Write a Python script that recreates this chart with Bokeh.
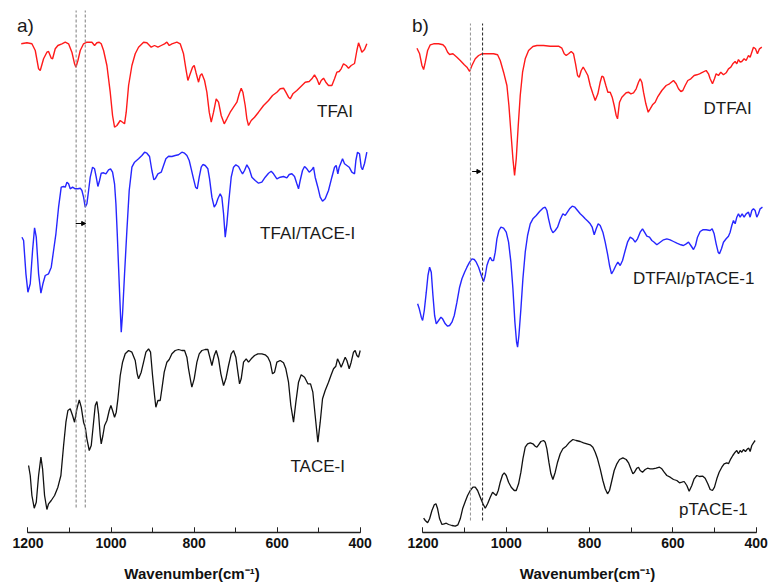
from bokeh.plotting import figure
from bokeh.layouts import row
from bokeh.models import Range1d, SingleIntervalTicker, Label, Arrow, NormalHead
from bokeh.embed import file_html
from bokeh.resources import INLINE

# ---------------- FTIR spectra, offset transmittance (a.u.) ----------------
# panel a)
tfai_wn = [1216.2, 1202.5, 1190.5, 1182.4, 1174.4, 1170.4, 1162.4, 1154.4, 1150.4, 1143.9, 1140.7, 1134.3,
           1127.9, 1118.3, 1110.2, 1102.2, 1094.2, 1087.8, 1084.5, 1079.7, 1074.1, 1066.1, 1058.1, 1046.0,
           1039.6, 1034.0, 1028.4, 1023.6, 1017.9, 1009.9, 1001.9, 996.3, 991.5, 985.8, 977.8, 972.2, 967.4,
           963.4, 957.7, 949.7, 941.7, 933.7, 921.6, 913.6, 903.2, 895.2, 887.1, 879.1, 871.1, 865.5, 859.8,
           853.4, 841.4, 833.4, 825.4, 819.7, 814.9, 809.3, 803.7, 799.7, 795.6, 789.2, 785.2, 781.2, 774.8,
           769.2, 763.5, 758.7, 753.1, 746.7, 741.1, 734.7, 727.4, 721.0, 713.0, 705.0, 696.9, 691.3, 686.5,
           682.5, 676.9, 672.9, 668.9, 662.4, 654.4, 644.8, 632.7, 620.7, 611.1, 600.6, 592.6, 584.6, 579.0,
           572.6, 568.5, 562.1, 552.5, 542.1, 532.4, 522.8, 516.4, 510.0, 504.3, 498.7, 493.9, 488.3, 482.7,
           476.3, 468.2, 461.8, 456.2, 450.6, 445.8, 440.2, 433.7, 428.1, 421.7, 413.6, 408.0, 404.0, 400.0,
           396.0, 389.6, 384.0]
tfai_t = [488.7, 489.7, 488.7, 482.0, 463.7, 462.0, 473.7, 480.3, 481.0, 474.3, 473.7, 483.7,
          487.0, 488.7, 490.3, 488.7, 480.3, 468.7, 465.3, 472.0, 482.0, 488.7, 490.3, 490.3,
          487.0, 489.7, 490.3, 488.7, 482.0, 467.0, 440.3, 417.0, 405.3, 407.0, 412.0, 410.3, 408.7,
          420.3, 447.0, 467.0, 478.7, 485.3, 490.3, 489.7, 485.3, 487.0, 485.3, 487.0, 488.7, 490.3, 487.0,
          488.7, 490.3, 488.7, 478.7, 463.7, 452.0, 458.7, 465.3, 467.0, 460.3, 450.3, 457.0, 458.7, 452.0,
          440.3, 420.3, 410.3, 420.3, 433.7, 430.3, 417.0, 408.7, 413.7, 420.3, 425.3, 430.3, 438.7, 444.3,
          440.3, 427.0, 413.7, 407.0, 412.0, 415.3, 420.3, 427.0, 432.0, 437.0, 440.3, 443.7, 444.3, 440.3,
          435.3, 433.7, 438.7, 442.0, 446.3, 450.3, 451.0, 453.7, 457.7, 453.7, 447.7, 452.0, 454.3, 450.3,
          447.0, 447.0, 453.7, 460.3, 461.0, 463.7, 468.7, 467.0, 464.3, 467.0, 469.0, 482.0, 489.7, 485.3,
          480.3, 483.0, 488.7]

mix_a_wn = [1214.5, 1210.5, 1204.9, 1200.1, 1194.5, 1188.9, 1184.1, 1180.0, 1174.4, 1168.8, 1164.0, 1158.4,
            1150.4, 1143.9, 1138.3, 1132.7, 1126.3, 1119.9, 1114.2, 1110.2, 1106.2, 1102.2, 1098.2, 1092.6,
            1086.2, 1079.7, 1074.1, 1070.1, 1066.1, 1062.1, 1058.1, 1054.0, 1050.0, 1044.4, 1039.6, 1035.6,
            1031.6, 1027.6, 1023.6, 1017.9, 1012.3, 1005.9, 1001.1, 996.3, 991.5, 988.2, 985.0, 981.8, 978.6,
            975.4, 972.2, 967.4, 961.8, 956.2, 949.7, 943.3, 933.7, 925.6, 919.2, 913.6, 907.2, 901.6, 896.8,
            893.6, 887.1, 879.1, 873.5, 867.9, 861.4, 853.4, 845.4, 837.4, 829.4, 822.9, 817.3, 811.7, 806.9,
            801.3, 796.4, 792.4, 787.6, 782.8, 778.8, 773.2, 766.8, 762.7, 757.1, 751.5, 746.7, 742.7, 737.1,
            733.1, 729.0, 725.0, 721.0, 716.2, 710.6, 705.0, 699.4, 692.9, 688.1, 683.3, 678.5, 672.9, 667.2,
            660.8, 652.8, 644.8, 636.8, 628.7, 620.7, 614.3, 608.7, 600.6, 592.6, 584.6, 576.6, 570.9, 564.5,
            558.1, 552.5, 548.5, 544.5, 538.9, 534.0, 528.4, 522.8, 516.4, 512.4, 508.4, 502.0, 496.3, 490.7,
            484.3, 476.3, 468.2, 461.8, 457.8, 453.8, 450.6, 445.8, 442.5, 437.7, 432.1, 426.5, 420.1, 413.6,
            410.4, 406.4, 401.6, 397.6, 394.4, 389.6, 384.0]
mix_a_t = [295.3, 292.0, 258.7, 240.3, 248.7, 282.0, 304.7, 295.3, 258.7, 239.3, 248.7, 257.0,
           258.7, 265.3, 282.0, 298.7, 325.3, 345.3, 346.0, 345.3, 350.3, 348.7, 343.7, 345.3,
           343.7, 343.7, 344.3, 342.0, 335.3, 325.3, 328.7, 342.0, 355.3, 365.3, 363.7, 355.3,
           346.0, 352.0, 359.3, 359.7, 358.7, 362.7, 363.7, 360.3, 348.7, 328.7, 298.7, 265.3, 232.0,
           200.3, 218.7, 258.7, 302.0, 342.0, 365.3, 370.3, 373.7, 377.0, 380.3, 379.3, 376.0, 362.0, 352.7,
           353.7, 358.7, 360.3, 367.0, 373.7, 376.3, 376.0, 377.0, 377.7, 380.3, 379.3, 377.0, 372.0, 363.7,
           353.7, 345.3, 343.7, 355.3, 365.3, 368.0, 367.0, 363.7, 353.7, 335.3, 325.3, 328.7, 333.7, 338.7,
           335.3, 318.7, 295.3, 308.7, 332.0, 355.3, 365.3, 367.7, 366.0, 362.0, 358.7, 362.0, 367.7, 363.7,
           355.3, 352.0, 349.3, 350.3, 355.3, 359.3, 361.3, 358.7, 353.7, 355.3, 356.0, 354.7, 358.0, 358.7,
           356.0, 348.7, 343.7, 352.0, 362.0, 366.0, 363.7, 360.3, 362.7, 365.3, 355.3, 345.3, 335.3, 331.3,
           333.7, 342.0, 355.3, 365.3, 367.0, 358.7, 365.3, 370.3, 373.7, 368.7, 367.0, 365.3, 360.3, 358.7,
           372.0, 380.3, 378.7, 365.3, 362.7, 369.0, 380.3]

tace_wn = [1198.5, 1194.5, 1190.5, 1184.9, 1180.0, 1174.4, 1168.8, 1164.8, 1160.0, 1154.4, 1150.4, 1143.9,
           1135.9, 1127.9, 1120.7, 1114.2, 1108.6, 1103.8, 1098.2, 1092.6, 1087.8, 1082.1, 1076.5, 1071.7,
           1066.1, 1062.1, 1058.1, 1052.4, 1047.6, 1042.0, 1038.0, 1034.0, 1030.0, 1026.0, 1023.6, 1019.5,
           1015.5, 1009.9, 1004.3, 1000.3, 996.3, 991.5, 987.4, 983.4, 977.8, 972.2, 965.8, 957.7, 949.7,
           941.7, 936.9, 933.7, 927.3, 921.6, 916.0, 909.6, 904.8, 900.0, 895.2, 892.0, 887.1, 881.5, 877.5,
           871.9, 865.5, 859.8, 853.4, 845.4, 837.4, 829.4, 822.9, 817.3, 813.3, 807.7, 805.3, 799.7, 793.2,
           787.6, 781.2, 773.2, 766.8, 761.1, 757.1, 751.5, 746.7, 741.1, 735.5, 729.0, 723.4, 717.0, 710.6,
           705.0, 699.4, 694.5, 690.5, 686.5, 680.9, 674.5, 668.9, 662.4, 654.4, 646.4, 636.8, 628.7, 622.3,
           616.7, 611.1, 606.2, 600.6, 592.6, 584.6, 579.0, 572.6, 567.0, 560.5, 554.9, 548.5, 542.1, 534.0,
           526.0, 519.6, 514.0, 508.4, 501.9, 496.3, 490.7, 484.3, 476.3, 469.8, 464.2, 458.6, 454.6, 450.6,
           445.8, 440.9, 436.1, 432.1, 426.5, 421.7, 416.1, 412.1, 408.0, 404.0, 400.0]
tace_t = [67.0, 57.0, 37.0, 24.3, 30.3, 57.0, 75.3, 63.7, 37.0, 23.0, 28.7, 32.0,
          37.0, 45.3, 57.0, 87.0, 110.3, 122.0, 123.7, 117.0, 110.3, 123.7, 132.7, 125.3,
          110.3, 105.3, 93.7, 82.0, 87.0, 110.3, 127.0, 131.0, 118.7, 97.0, 88.7, 97.0,
          107.0, 112.0, 122.0, 127.0, 122.0, 115.3, 120.3, 133.7, 157.0, 170.3, 178.7, 182.0, 180.3,
          172.0, 158.7, 153.7, 160.3, 170.3, 180.3, 183.7, 180.3, 157.0, 137.0, 125.3, 132.0, 132.0, 143.7,
          160.3, 170.3, 173.0, 178.7, 182.0, 183.0, 182.0, 182.0, 175.3, 163.7, 150.3, 145.3, 153.7, 170.3,
          178.7, 182.0, 183.0, 183.0, 173.7, 167.0, 177.0, 182.0, 173.7, 158.7, 147.0, 153.7, 167.0, 178.7,
          182.0, 175.3, 160.3, 148.7, 153.7, 170.3, 173.7, 170.3, 173.7, 177.0, 178.7, 178.7, 177.7, 175.3,
          170.3, 158.7, 160.3, 170.3, 172.0, 169.7, 163.7, 150.3, 127.0, 110.3, 130.3, 150.3, 157.7, 155.3,
          148.7, 148.7, 140.3, 117.0, 90.3, 110.3, 133.7, 142.0, 150.3, 157.7, 163.7, 166.3, 173.7, 170.3,
          165.3, 170.3, 175.3, 172.0, 163.7, 170.3, 180.3, 182.0, 177.0, 175.3, 182.0]

# panel b)
dtfai_wn = [1214.5, 1208.1, 1202.5, 1198.5, 1194.5, 1188.9, 1182.5, 1174.5, 1162.5, 1152.1, 1146.5, 1140.9,
            1136.1, 1128.1, 1118.5, 1110.5, 1100.9, 1094.5, 1088.1, 1082.5, 1074.5, 1066.5, 1058.5, 1046.5,
            1030.5, 1020.9, 1014.5, 1006.5, 998.5, 993.7, 988.9, 984.1, 980.1, 976.1, 971.3, 966.5, 960.9,
            954.5, 946.5, 936.1, 926.5, 910.5, 894.5, 874.5, 866.5, 860.9, 856.1, 850.5, 844.1, 838.5, 833.7,
            828.9, 824.9, 820.1, 815.3, 810.5, 804.1, 798.5, 792.1, 786.5, 780.1, 774.5, 770.5, 766.5, 760.9,
            756.1, 750.5, 745.7, 740.9, 736.1, 732.9, 728.1, 722.5, 718.5, 712.1, 706.5, 700.9, 694.5, 688.1,
            682.5, 678.5, 674.5, 670.5, 664.9, 659.3, 654.5, 648.9, 642.5, 636.9, 626.5, 616.1, 608.1, 598.5,
            592.1, 586.5, 580.9, 576.1, 570.5, 564.1, 556.9, 548.9, 542.5, 536.1, 528.1, 520.1, 514.5, 510.5,
            504.9, 500.1, 496.1, 490.5, 484.9, 478.5, 472.1, 466.5, 460.9, 456.1, 450.5, 446.5, 442.5, 438.5,
            434.5, 428.9, 424.1, 418.5, 414.5, 410.5, 406.5, 401.7, 396.9, 392.1, 386.5]
dtfai_t = [484.3, 478.7, 467.0, 463.0, 470.3, 482.0, 487.7, 488.7, 488.7, 487.7, 485.3, 480.3,
           478.0, 478.7, 475.3, 472.0, 467.7, 465.3, 461.0, 467.0, 473.7, 477.0, 478.7, 478.7,
           478.7, 477.7, 472.0, 460.3, 447.0, 427.0, 400.3, 373.7, 357.0, 373.7, 407.0, 437.0, 460.3,
           473.7, 482.0, 486.0, 487.0, 487.0, 486.3, 486.3, 484.3, 478.7, 477.0, 478.7, 481.0, 478.7, 468.7,
           457.0, 455.3, 462.0, 465.3, 462.0, 457.0, 447.0, 438.7, 432.0, 438.7, 450.3, 456.3, 455.3, 447.0,
           440.3, 440.3, 435.3, 427.0, 417.0, 413.7, 430.3, 435.3, 437.0, 439.7, 440.3, 438.7, 439.7, 443.7,
           450.3, 453.7, 450.3, 440.3, 428.7, 420.3, 423.7, 427.7, 430.3, 435.3, 442.0, 447.0, 448.7, 452.0,
           448.7, 443.7, 441.0, 442.0, 447.0, 452.0, 453.7, 457.0, 457.7, 458.7, 460.3, 462.0, 458.7, 453.7,
           448.7, 453.7, 458.7, 457.0, 460.3, 457.7, 459.7, 463.7, 465.3, 468.7, 471.0, 468.7, 473.0, 470.3,
           471.0, 473.7, 472.0, 477.0, 475.3, 480.3, 485.3, 483.7, 478.7, 483.7, 485.3]

mix_b_wn = [1212.9, 1208.9, 1204.1, 1200.9, 1196.9, 1192.1, 1188.1, 1184.1, 1180.1, 1176.1, 1172.1, 1168.1,
            1162.5, 1156.9, 1152.9, 1146.5, 1140.9, 1136.1, 1130.5, 1124.9, 1118.5, 1112.1, 1106.5, 1100.1,
            1094.5, 1088.1, 1082.5, 1076.9, 1072.1, 1066.5, 1062.5, 1058.5, 1054.5, 1050.5, 1046.5, 1042.5,
            1038.5, 1034.5, 1030.5, 1026.5, 1022.5, 1017.7, 1012.9, 1006.5, 1000.1, 994.5, 988.9, 984.1, 979.3,
            975.3, 972.9, 969.7, 964.9, 960.1, 954.5, 948.9, 942.5, 936.1, 928.1, 920.1, 912.1, 906.5, 902.5,
            898.5, 892.9, 888.1, 882.5, 876.9, 870.5, 864.1, 858.5, 854.5, 848.1, 841.7, 835.3, 828.9, 822.5,
            816.1, 810.5, 804.1, 798.5, 793.7, 788.9, 784.1, 779.3, 774.5, 768.1, 762.5, 756.9, 752.1, 747.3,
            742.5, 736.9, 732.1, 726.5, 720.9, 714.5, 708.9, 702.5, 696.1, 690.5, 684.9, 678.5, 672.9, 668.1,
            662.5, 656.1, 650.5, 644.9, 638.5, 630.5, 622.5, 614.5, 606.5, 598.5, 590.5, 580.9, 574.5, 568.1,
            562.5, 556.9, 550.5, 545.7, 540.9, 534.5, 528.1, 520.1, 510.5, 505.7, 500.9, 496.1, 491.3, 488.1,
            483.3, 478.5, 472.1, 466.5, 462.5, 458.5, 454.5, 450.5, 446.5, 442.5, 438.5, 433.7, 428.9, 424.1,
            418.5, 414.5, 410.5, 406.5, 402.5, 398.5, 394.5, 390.5, 384.9]
mix_b_t = [228.7, 223.7, 215.3, 212.0, 222.0, 240.3, 257.0, 265.3, 260.3, 237.0, 217.0, 208.7,
           212.0, 215.3, 213.7, 208.7, 206.3, 207.0, 210.3, 217.0, 230.3, 245.3, 253.7, 260.3,
           265.3, 270.3, 273.7, 273.0, 270.3, 265.3, 260.3, 255.3, 251.0, 257.0, 267.0, 272.0,
           275.3, 272.0, 272.0, 280.3, 293.7, 302.0, 305.3, 304.3, 300.3, 290.3, 270.3, 243.7, 210.3,
           190.3, 185.3, 197.0, 223.7, 253.7, 280.3, 297.0, 308.7, 313.7, 317.0, 321.0, 324.3, 325.3, 322.0,
           313.7, 303.7, 299.7, 302.0, 305.3, 313.0, 318.7, 317.0, 319.7, 323.7, 326.3, 325.3, 322.0, 318.7,
           316.3, 313.7, 311.3, 308.7, 305.3, 297.7, 303.7, 308.7, 307.0, 300.3, 290.3, 278.7, 267.0, 258.7,
           262.0, 267.0, 270.3, 267.0, 272.0, 282.0, 290.3, 295.3, 293.7, 290.3, 293.7, 300.3, 303.7, 300.3,
           296.3, 295.3, 292.0, 290.3, 287.7, 290.3, 292.7, 293.7, 292.7, 291.0, 289.3, 287.7, 287.0, 288.7,
           290.3, 287.0, 283.0, 287.0, 295.3, 301.0, 302.7, 302.7, 302.0, 303.7, 298.7, 288.7, 280.3, 278.7,
           283.7, 290.3, 293.7, 296.3, 300.3, 307.0, 312.0, 308.7, 315.3, 318.7, 315.3, 318.7, 315.3, 318.7,
           320.3, 315.3, 322.0, 323.7, 322.0, 315.3, 318.7, 323.7, 325.3]

ptace_wn = [1198.5, 1194.5, 1188.9, 1184.1, 1178.5, 1172.9, 1168.9, 1164.9, 1160.1, 1154.5, 1148.9, 1144.1,
            1138.5, 1130.5, 1122.5, 1116.1, 1110.5, 1104.9, 1098.5, 1092.9, 1086.5, 1080.1, 1074.5, 1068.9,
            1062.5, 1056.1, 1050.5, 1044.9, 1038.5, 1032.9, 1028.9, 1024.1, 1019.3, 1014.5, 1008.9, 1004.9,
            1000.1, 994.5, 988.1, 980.9, 976.1, 970.5, 964.9, 960.1, 954.5, 948.9, 942.5, 936.1, 930.5, 926.5,
            922.5, 916.9, 910.5, 906.5, 902.5, 897.7, 892.9, 888.1, 882.5, 876.9, 870.5, 864.1, 856.1, 848.1,
            840.1, 832.1, 822.5, 814.5, 806.5, 798.5, 792.1, 786.5, 780.9, 774.5, 768.1, 762.5, 756.9, 752.1,
            746.5, 740.9, 734.5, 728.1, 720.1, 712.1, 706.5, 700.9, 696.1, 692.1, 686.5, 682.5, 678.5, 672.9,
            666.5, 660.9, 654.5, 648.1, 640.1, 632.1, 626.5, 620.9, 614.5, 606.5, 598.5, 590.5, 584.1, 578.5,
            572.9, 566.5, 560.9, 554.5, 548.9, 542.5, 536.1, 528.1, 522.5, 516.1, 510.5, 504.9, 500.1, 494.5,
            488.9, 482.5, 476.9, 470.5, 466.5, 460.9, 456.1, 450.5, 446.5, 442.5, 438.5, 434.5, 430.5, 425.7,
            420.9, 417.7, 414.5, 410.5, 406.5, 402.5]
ptace_t = [14.3, 12.0, 9.7, 13.7, 22.0, 27.7, 28.7, 23.7, 13.7, 8.0, 8.7, 9.3,
           8.0, 7.0, 6.3, 7.7, 13.7, 23.7, 31.0, 37.0, 42.0, 45.3, 45.3, 42.0,
           35.3, 28.7, 24.3, 28.7, 35.3, 40.3, 38.7, 37.0, 42.0, 50.3, 57.7, 59.7,
           57.0, 50.3, 45.3, 42.0, 42.0, 48.7, 60.3, 73.7, 85.3, 88.7, 89.7, 88.7, 86.3, 85.3,
           87.7, 91.0, 92.0, 90.3, 83.7, 70.3, 58.7, 53.0, 60.3, 70.3, 78.7, 83.7, 86.3, 90.3,
           93.0, 92.0, 91.0, 89.7, 88.7, 87.7, 85.3, 80.3, 73.7, 63.7, 52.0, 43.7, 38.7, 42.0,
           52.0, 62.0, 68.7, 73.0, 74.7, 73.0, 69.7, 63.7, 58.7, 60.3, 64.3, 65.3, 62.0, 60.3,
           63.0, 64.3, 63.7, 63.7, 64.3, 65.3, 63.7, 60.3, 57.0, 55.3, 53.0, 52.0, 49.7, 50.3,
           51.0, 47.0, 41.3, 47.0, 53.7, 57.0, 56.0, 56.3, 54.3, 48.7, 43.0, 42.0, 45.3, 53.7,
           60.3, 65.3, 68.7, 69.7, 68.7, 73.7, 77.0, 80.3, 82.0, 78.7, 82.0, 80.3, 83.0, 81.0,
           83.7, 84.3, 81.0, 87.0, 89.7, 92.0]

# marker lines (cm-1) and the shift arrows between them
ref_lines_a = [1084, 1062]
ref_lines_b = [1086, 1057]

RED = "#ff1a1a"
BLUE = "#2626ff"
BLACK = "#111111"
FONT = "Liberation Sans"


def make_panel(frame_w, border_left, border_right):
    p = figure(frame_width=frame_w, frame_height=527,
               x_range=Range1d(1230, 380), y_range=Range1d(0, 527),
               min_border_left=border_left, min_border_right=border_right,
               min_border_top=5, min_border_bottom=54,
               y_axis_location=None, output_backend="svg", toolbar_location=None)
    p.grid.visible = False
    p.outline_line_color = None
    p.background_fill_color = "white"
    p.border_fill_color = "white"
    ax = p.xaxis[0]
    ax.ticker = SingleIntervalTicker(interval=200, num_minor_ticks=2)
    ax.bounds = (400, 1200)
    ax.axis_line_color = "#222222"
    ax.axis_line_width = 1.3
    ax.major_tick_in = 5
    ax.major_tick_out = 0
    ax.minor_tick_in = 5
    ax.minor_tick_out = 0
    ax.major_tick_line_color = "#222222"
    ax.minor_tick_line_color = "#222222"
    ax.major_label_text_font = FONT
    ax.major_label_text_font_style = "bold"
    ax.major_label_text_font_size = "14px"
    ax.major_label_text_color = "#111111"
    ax.major_label_standoff = 5
    ax.axis_label = "Wavenumber(cm\u207b\u00b9)"
    ax.axis_label_text_font = FONT
    ax.axis_label_text_font_style = "bold"
    ax.axis_label_text_font_size = "15px"
    ax.axis_label_text_color = "#111111"
    ax.axis_label_standoff = 14
    return p


def add_label(p, x, y, text, size="17px"):
    p.add_layout(Label(x=x, y=y, text=text, text_font=FONT, text_font_size=size,
                       text_color="#1a1a1a", text_align="left", text_baseline="alphabetic"))


# ---------------- panel a ----------------
pa = make_panel(353, 15, 27)
pa.line(tfai_wn, tfai_t, line_color=RED, line_width=1.4)
pa.line(mix_a_wn, mix_a_t, line_color=BLUE, line_width=1.4)
pa.line(tace_wn, tace_t, line_color=BLACK, line_width=1.3)
for wn in ref_lines_a:
    pa.line([wn, wn], [25, 522], line_color="#888888", line_width=1.1, line_dash="3 2")
pa.add_layout(Arrow(end=NormalHead(size=4, fill_color="black", line_color="black"),
                    x_start=ref_lines_a[0] + 1, y_start=309, x_end=ref_lines_a[1] - 1, y_end=309,
                    line_color="black", line_width=1))
add_label(pa, 1226.5, 507, "a)", "19px")
add_label(pa, 504, 421, "TFAI")
add_label(pa, 641, 299, "TFAI/TACE-I")
add_label(pa, 568, 66, "TACE-I")

# ---------------- panel b ----------------
pb = make_panel(354, 15, 5)
pb.line(dtfai_wn, dtfai_t, line_color=RED, line_width=1.4)
pb.line(mix_b_wn, mix_b_t, line_color=BLUE, line_width=1.4)
pb.line(ptace_wn, ptace_t, line_color=BLACK, line_width=1.3)
pb.line([ref_lines_b[0]] * 2, [12, 509], line_color="#999999", line_width=1.1, line_dash="3 2")
pb.line([ref_lines_b[1]] * 2, [12, 509], line_color="#333333", line_width=1.1, line_dash="3 2")
pb.add_layout(Arrow(end=NormalHead(size=4, fill_color="black", line_color="black"),
                    x_start=ref_lines_b[0] - 4, y_start=361, x_end=ref_lines_b[1] + 4, y_end=361,
                    line_color="black", line_width=1))
add_label(pb, 1226.4, 507, "b)", "19px")
add_label(pb, 526.5, 424, "DTFAI")
add_label(pb, 696, 254, "DTFAI/pTACE-1")
add_label(pb, 585, 23, "pTACE-1")

layout = row(pa, pb)
open("out.html", "w").write(file_html(layout, INLINE))
